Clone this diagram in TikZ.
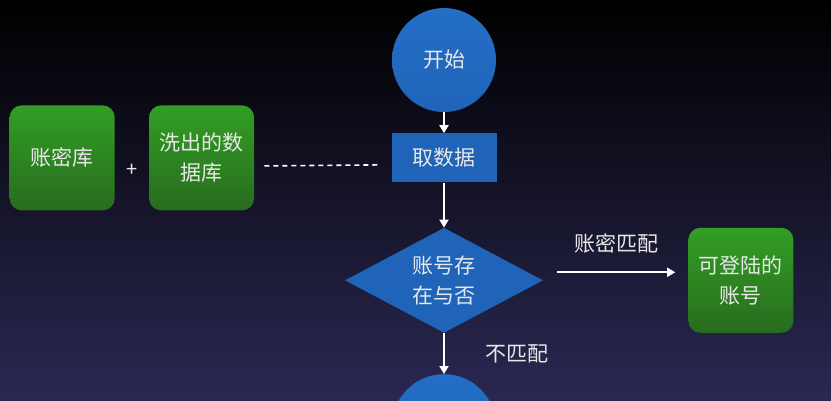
\documentclass[tikz,border=0pt]{standalone}
\usepackage{fontspec}
\setmainfont{Noto Sans CJK SC}
\usetikzlibrary{positioning, arrows.meta, shapes.geometric}
\definecolor{flowblue}{RGB}{31,100,185}
\definecolor{flowblueT}{RGB}{36,110,198}
\definecolor{greenT}{RGB}{50,158,36}
\definecolor{greenB}{RGB}{40,108,30}
\definecolor{bgnavy}{RGB}{42,40,82}
\definecolor{txt}{RGB}{232,232,232}

\begin{document}
\begin{tikzpicture}[x=1pt, y=-1pt,
		bigfont/.style={font=\fontsize{21}{30}\selectfont},
		terminal/.style={circle, top color=flowblueT, bottom color=flowblue, inner sep=0pt, minimum size=104pt, text=txt, bigfont},
		process/.style={rectangle, fill=flowblue, inner sep=0pt, minimum width=105pt, minimum height=49pt, text=txt, bigfont},
		decision/.style={diamond, aspect=1.886, fill=flowblue, inner sep=0pt, minimum width=198pt, minimum height=105pt, align=center, text=txt, bigfont},
		store/.style={rectangle, rounded corners=12pt, top color=greenT, bottom color=greenB, inner sep=0pt, minimum width=105pt, minimum height=105pt, align=center, text=txt, bigfont},
		mylabel/.style={inner sep=2pt, text=txt, bigfont},
		flow/.style={draw=white, line width=1.8pt, -{Triangle[width=9pt, length=8pt]}},
		dashline/.style={draw=white, line width=1.6pt, dash pattern=on 5pt off 4pt}
	]

	% background
	\shade[top color=black, bottom color=bgnavy] (0,0) rectangle (831,400);
	\useasboundingbox (0,0) rectangle (831,400);

	\node[terminal] (start) at (444,60) {开始};
	\node[process, below=21pt of start] (fetch) {取数据};
	\node[decision, below=45pt of fetch] (check) {账号存\\在与否};
	\node[terminal, below=41pt of check] (stop) {};
	\node[store, right=145pt of check] (ok) {可登陆的\\账号};
	\node[store, left=137pt of fetch] (clean) {洗出的数\\据库};
	\node[store, left=34pt of clean] (pwd) {账密库};
	\path (pwd) -- (clean) node[midway, yshift=-12pt, text=txt, font=\fontsize{20}{20}\selectfont] (plus) {+};

	\foreach \i/\j in {start/fetch, fetch/check}
		\draw[flow] (\i) -- (\j);

	\draw[flow] (check) -- node[mylabel, right=39pt] (nomatch) {不匹配} (stop);
	\draw[flow] ([xshift=14pt, yshift=8pt]check.east) -- node[mylabel, above=16pt] (match) {账密匹配} ([xshift=-13pt, yshift=8pt]ok.west);
	\draw[dashline] ([xshift=10pt, yshift=-8pt]clean.east) -- ([xshift=-12pt, yshift=-7pt]fetch.west);

\end{tikzpicture}
\end{document}
